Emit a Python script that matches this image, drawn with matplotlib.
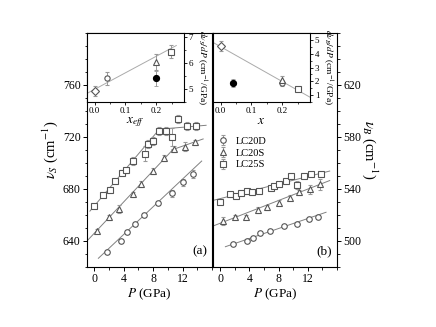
import matplotlib
matplotlib.use("Agg")
import matplotlib.pyplot as plt
from matplotlib.ticker import MultipleLocator, FixedLocator

plt.rcParams["font.family"] = ["Liberation Serif", "DejaVu Serif"]
plt.rcParams["mathtext.fontset"] = "stix"

# ---- data: stretching mode (left panel) ----
p_20d_s = [1.75, 3.6, 4.5, 5.5, 6.8, 8.7, 10.5, 12.1, 13.4]
v_20d_s = [631.8, 640.2, 646.7, 653.3, 659.7, 669.0, 676.7, 685.0, 691.4]
e_20d_s = [1.5, 1.5, 1.5, 1.5, 1.5, 1.5, 2.5, 3.0, 3.0]

p_20s_s = [0.4, 2.0, 3.4, 5.2, 6.4, 8.0, 9.5, 10.8, 12.3, 13.7]
v_20s_s = [647.7, 658.2, 664.4, 676.0, 683.8, 693.8, 703.7, 710.8, 712.4, 715.8]
e_20s_s = [1.5, 2.0, 3.0, 2.0, 2.0, 2.0, 2.5, 2.5, 3.5, 2.0]

p_25s_s = [0.0, 1.2, 2.1, 2.8, 3.7, 4.3, 5.3, 6.9, 7.3, 8.0, 8.8, 9.7, 10.5, 11.4, 12.6, 13.8]
v_25s_s = [666.8, 675.2, 679.4, 685.8, 692.6, 694.3, 701.4, 707.2, 714.6, 717.0, 724.8, 724.8, 720.2, 733.6, 728.6, 728.2]
e_25s_s = [1.5, 1.5, 1.5, 1.5, 2.0, 2.0, 3.0, 6.0, 3.0, 3.0, 3.0, 3.0, 7.0, 3.0, 3.0, 3.0]

# fitted lines (P, v) end points
fit_20d_s = ([0.55, 14.6], [626.7, 701.5])
fit_20s_s = ([-1.0, 10.8], [640.0, 711.0])
fit_20s_s2 = ([10.5, 14.8], [710.0, 718.5])
fit_25s_s = ([-0.6, 9.0], [663.0, 727.0])
fit_25s_s2 = ([8.9, 15.2], [726.0, 729.0])

# ---- data: bending mode (right panel) ----
p_20d_b = [1.75, 3.65, 4.5, 5.5, 6.8, 8.7, 10.5, 12.1, 13.4]
v_20d_b = [497.7, 500.2, 502.5, 505.9, 507.9, 511.5, 513.3, 517.2, 518.5]
e_20d_b = [1.0, 1.0, 1.0, 1.0, 1.0, 1.0, 1.0, 1.5, 1.5]

p_20s_b = [0.35, 2.05, 3.5, 5.2, 6.45, 8.0, 9.5, 10.75, 12.3, 13.7]
v_20s_b = [515.4, 518.7, 518.7, 523.8, 525.9, 529.5, 533.3, 537.5, 539.8, 543.6]
e_20s_b = [3.0, 1.5, 1.5, 2.0, 2.0, 2.0, 2.0, 2.0, 3.5, 4.0]

p_25s_b = [0.0, 1.3, 2.1, 2.9, 3.7, 4.4, 5.3, 6.9, 7.4, 8.1, 9.0, 9.75, 10.5, 11.5, 12.5, 13.8]
v_25s_b = [529.8, 535.9, 534.9, 536.7, 538.5, 537.5, 538.5, 540.5, 542.5, 543.8, 546.0, 549.8, 543.0, 549.8, 551.5, 551.3]
e_25s_b = [1.0, 1.0, 1.0, 1.0, 1.0, 1.0, 1.0, 1.0, 1.0, 1.0, 1.0, 1.0, 3.0, 1.0, 1.5, 1.5]

fit_20d_b = ([0.7, 14.5], [495.6, 522.1])
fit_20s_b = ([-1.0, 15.0], [511.5, 546.5])
fit_25s_b = ([-0.8, 15.0], [531.5, 553.8])

# ---- inset data: slopes vs x ----
xs_sym = {"D": 0.0, "o": 0.041, "^": 0.198, "s": 0.247}
slope_s = {"D": 4.92, "o": 5.41, "^": 6.04, "s": 6.43}
slope_s_err = {"D": 0.2, "o": 0.25, "^": 0.3, "s": 0.25}
x_fill_s, y_fill_s, e_fill_s = 0.198, 5.41, 0.3
fit_ins_s = ([-0.025, 0.265], [4.83, 6.67])

xb_sym = {"D": 0.0, "o": 0.2, "^": 0.2, "s": 0.251}
slope_b = {"D": 4.55, "o": 1.88, "^": 2.11, "s": 1.45}
slope_b_err = {"D": 0.35, "o": 0.2, "^": 0.3, "s": 0.15}
x_fill_b, y_fill_b, e_fill_b = 0.041, 1.88, 0.3
fit_ins_b = ([-0.025, 0.29], [4.82, 0.85])

labels = ["LC20D", "LC20S", "LC25S"]
p_ticks = [0, 4, 8, 12]
vs_ticks = [640, 680, 720, 760]
vb_ticks = [500, 540, 580, 620]

mcol = "#555555"
lcol = "#808080"
ecol = "#999999"

fig = plt.figure(figsize=(4.36, 3.27), dpi=100)
axA = fig.add_axes([0.1995, 0.1835, 0.2867, 0.7156])
axB = fig.add_axes([0.4885, 0.1835, 0.2844, 0.7156])


def draw_series(ax, p, v, e, m, lab=None):
    ax.errorbar(p, v, yerr=e, fmt=m, ms=4.0, mfc="white", mec=mcol, mew=0.8,
                ecolor=ecol, elinewidth=0.7, capsize=1.5, capthick=0.6,
                label=lab, zorder=3)


for fit in [fit_20d_s, fit_20s_s, fit_20s_s2, fit_25s_s, fit_25s_s2]:
    axA.plot(fit[0], fit[1], color=lcol, lw=0.7, zorder=2)
draw_series(axA, p_20d_s, v_20d_s, e_20d_s, "o")
draw_series(axA, p_20s_s, v_20s_s, e_20s_s, "^")
draw_series(axA, p_25s_s, v_25s_s, e_25s_s, "s")

for fit in [fit_20d_b, fit_20s_b, fit_25s_b]:
    axB.plot(fit[0], fit[1], color=lcol, lw=0.7, zorder=2)
draw_series(axB, p_20d_b, v_20d_b, e_20d_b, "o", labels[0])
draw_series(axB, p_20s_b, v_20s_b, e_20s_b, "^", labels[1])
draw_series(axB, p_25s_b, v_25s_b, e_25s_b, "s", labels[2])

axA.set_xlim(-1, 16)
axA.set_ylim(620, 800)
axB.set_xlim(-1, 16)
axB.set_ylim(480, 660)

for ax, yt in [(axA, vs_ticks), (axB, vb_ticks)]:
    ax.xaxis.set_major_locator(FixedLocator(p_ticks))
    ax.xaxis.set_minor_locator(MultipleLocator(2))
    ax.yaxis.set_major_locator(FixedLocator(yt))
    ax.yaxis.set_minor_locator(MultipleLocator(10))
    ax.tick_params(which="both", direction="out", labelsize=8.5, pad=1.5)
    ax.tick_params(which="major", length=3, width=0.7)
    ax.tick_params(which="minor", length=1.8, width=0.6)
    for s in ax.spines.values():
        s.set_linewidth(0.8)
    ax.set_xlabel(r"$P$ (GPa)", fontsize=9.5, labelpad=1)

axA.tick_params(axis="y", which="both", left=True, right=False)
axB.tick_params(axis="y", which="both", left=False, right=True,
                labelleft=False, labelright=True)
axB.yaxis.set_label_position("right")

axA.set_ylabel(r"$\nu_S$ (cm$^{-1}$)", fontsize=10.5, labelpad=2)
axB.set_ylabel(r"$\nu_B$ (cm$^{-1}$)", fontsize=10.5, rotation=270,
               labelpad=13)

axA.text(0.96, 0.04, "(a)", transform=axA.transAxes, ha="right",
         va="bottom", fontsize=9.5)
axB.text(0.96, 0.04, "(b)", transform=axB.transAxes, ha="right",
         va="bottom", fontsize=9.5)

axB.legend(loc="upper left", bbox_to_anchor=(-0.02, 0.585), frameon=False,
           fontsize=7.5, handlelength=1.2, handletextpad=0.6,
           labelspacing=0.25, borderaxespad=0.2)

# ---- insets ----
insA = fig.add_axes([0.1995, 0.688, 0.2225, 0.211])
insB = fig.add_axes([0.4885, 0.688, 0.2225, 0.211])

insA.plot(fit_ins_s[0], fit_ins_s[1], color="#aaaaaa", lw=0.7, zorder=2)
for m in ["D", "o", "^", "s"]:
    insA.errorbar([xs_sym[m]], [slope_s[m]], yerr=[slope_s_err[m]], fmt=m,
                  ms=3.8, mfc="white", mec=mcol, mew=0.8, ecolor=ecol,
                  elinewidth=0.7, capsize=1.5, capthick=0.6, zorder=3)
insA.errorbar([x_fill_s], [y_fill_s], yerr=[e_fill_s], fmt="o", ms=4.2,
              mfc="black", mec="black", ecolor=ecol, elinewidth=0.7,
              capsize=1.5, capthick=0.6, zorder=3)
insA.set_xlim(-0.025, 0.29)
insA.set_ylim(4.5, 7.15)
insA.yaxis.set_major_locator(MultipleLocator(1))
insA.yaxis.set_minor_locator(MultipleLocator(0.5))
insA.set_xlabel(r"$x_{eff}$", fontsize=9.5, labelpad=0)

insB.plot(fit_ins_b[0], fit_ins_b[1], color="#aaaaaa", lw=0.7, zorder=2)
for m in ["D", "o", "^", "s"]:
    insB.errorbar([xb_sym[m]], [slope_b[m]], yerr=[slope_b_err[m]], fmt=m,
                  ms=3.8, mfc="white", mec=mcol, mew=0.8, ecolor=ecol,
                  elinewidth=0.7, capsize=1.5, capthick=0.6, zorder=3)
insB.errorbar([x_fill_b], [y_fill_b], yerr=[e_fill_b], fmt="o", ms=4.2,
              mfc="black", mec="black", ecolor=ecol, elinewidth=0.7,
              capsize=1.5, capthick=0.6, zorder=3)
insB.set_xlim(-0.025, 0.29)
insB.set_ylim(0.5, 5.5)
insB.yaxis.set_major_locator(MultipleLocator(1))
insB.yaxis.set_minor_locator(MultipleLocator(0.5))
insB.set_xlabel(r"$x$", fontsize=9.5, labelpad=0)

for ax, lab in [(insA, r"$d\nu_S/dP$ (cm$^{-1}$/GPa)"),
                (insB, r"$d\nu_B/dP$ (cm$^{-1}$/GPa)")]:
    ax.xaxis.set_major_locator(MultipleLocator(0.1))
    ax.xaxis.set_minor_locator(MultipleLocator(0.05))
    ax.xaxis.set_major_formatter(plt.FormatStrFormatter("%.1f"))
    ax.yaxis.set_label_position("right")
    ax.set_ylabel(lab, fontsize=6.8, rotation=270, va="bottom", labelpad=1)
    ax.tick_params(axis="y", which="both", left=False, right=True,
                   labelleft=False, labelright=True)
    ax.tick_params(which="both", direction="out", labelsize=6.5, pad=1)
    ax.tick_params(which="major", length=2.5, width=0.6)
    ax.tick_params(which="minor", length=1.5, width=0.5)
    for s in ax.spines.values():
        s.set_linewidth(0.8)

fig.savefig("out.png", dpi=100)
